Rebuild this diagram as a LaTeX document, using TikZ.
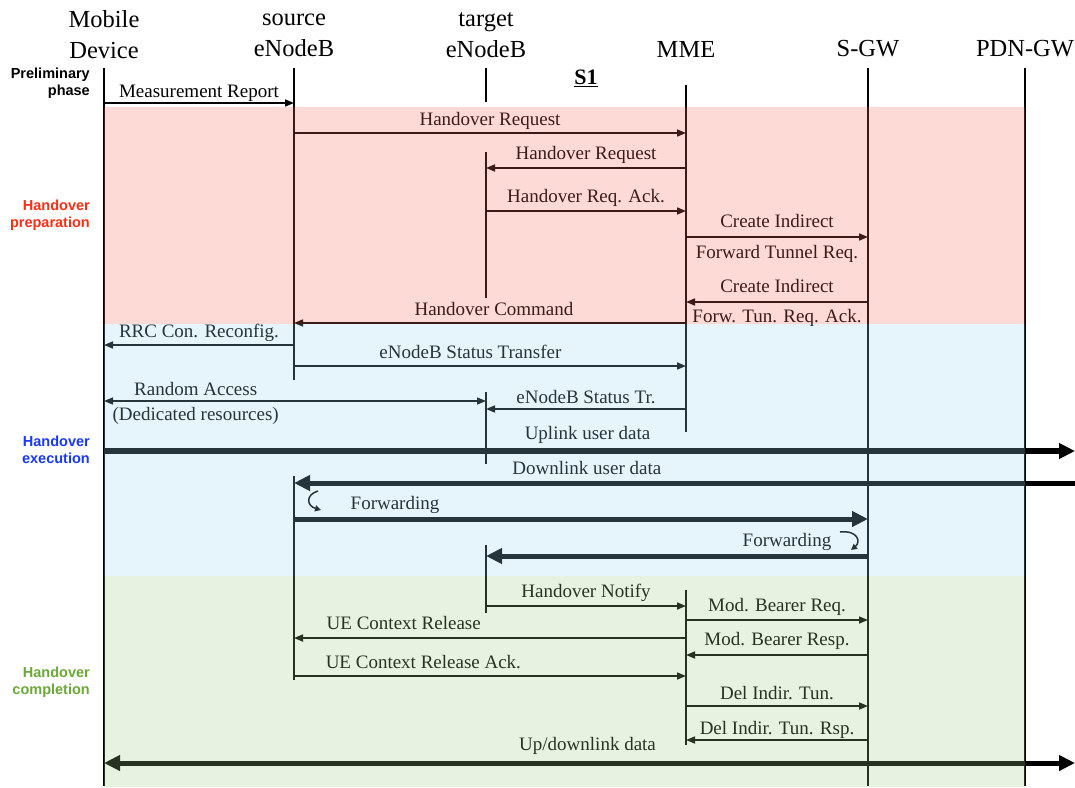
\documentclass[tikz,border=0pt]{standalone}
\usepackage{fontspec}
\setmainfont{Liberation Serif}
\newfontfamily\lsans{Liberation Sans}
\usetikzlibrary{arrows.meta,calc}
\definecolor{bandpink}{RGB}{247,107,87}
\definecolor{bandblue}{RGB}{155,211,239}
\definecolor{bandgreen}{RGB}{159,207,131}
\definecolor{prepred}{RGB}{255,45,20}
\definecolor{execblue}{RGB}{25,55,255}
\definecolor{compgreen}{RGB}{106,168,55}
\tikzset{
  head/.style={font=\fontsize{24.5}{31}\selectfont, align=center, inner sep=0pt},
  lbl/.style={font=\fontsize{19}{22}\selectfont, inner sep=2pt, text height=13pt, text depth=4pt},
  up/.style={lbl, above, yshift=0.5pt},
  dn/.style={lbl, below, yshift=-6pt},
  life/.style={line width=1.6pt},
  lifeb/.style={line width=2.4pt},
  msg/.style={line width=1.6pt, -{Triangle[length=9pt,width=7pt]}},
  bigmsg/.style={line width=5pt, -{Triangle[length=16pt,width=15pt]}},
  phaselbl/.style={font=\lsans\bfseries\fontsize{14.5}{17}\selectfont, align=right, anchor=east, inner sep=0pt},
  band/.style={fill opacity=0.25, draw=none},
  hook/.style={line width=1.5pt, -{Triangle[length=6pt,width=6pt]}}
}
\begin{document}
\begin{tikzpicture}[x=1pt,y=-1pt]
\useasboundingbox (0,0) rectangle (1075,787);
% lifeline anchors
\coordinate (ue) at (104,0);
\coordinate (src) at (294,0);
\coordinate (tgt) at (486,0);
\coordinate (mme) at (686,0);
\coordinate (sgw) at (868,0);
\coordinate (pdn) at (1025,0);
\coordinate (edgeR) at (1075,0);

% headers
\node[head] (hue) at (104,35) {Mobile\\Device};
\node[head] (hsrc) at (294,35) {source\\eNodeB};
\node[head] (htgt) at (486,35) {target\\eNodeB};
\node[head] (hmme) at (686,49) {MME};
\node[head] (hsgw) at (868,49) {S-GW};
\node[head] (hpdn) at (1025,49) {PDN-GW};
\node[font=\bfseries\fontsize{22}{24}\selectfont, inner sep=0pt] (s1) at (586,78) {\underline{S1}};

% phase labels
\node[phaselbl] (pprelim) at (90,83) {Preliminary\\phase};
\node[phaselbl, text=prepred] (pprep) at (90,215) {Handover\\preparation};
\node[phaselbl, text=execblue] (pexec) at (90,450) {Handover\\execution};
\node[phaselbl, text=compgreen] (pcomp) at (90,682) {Handover\\completion};

% lifelines
\draw[lifeb] ($(ue)+(0,68)$) -- ($(ue)+(0,786)$);
\draw[life] ($(src)+(0,68)$) -- ($(src)+(0,380)$);
\draw[life] ($(src)+(0,476)$) -- ($(src)+(0,680)$);
\draw[lifeb] ($(tgt)+(0,68)$) -- ($(tgt)+(0,102)$);
\draw[life] ($(tgt)+(0,152)$) -- ($(tgt)+(0,298)$);
\draw[lifeb] ($(tgt)+(0,392)$) -- ($(tgt)+(0,464)$);
\draw[life] ($(tgt)+(0,545)$) -- ($(tgt)+(0,613)$);
\draw[life] ($(mme)+(0,85)$) -- ($(mme)+(0,432)$);
\draw[life] ($(mme)+(0,590)$) -- ($(mme)+(0,745)$);
\draw[life] ($(sgw)+(0,68)$) -- ($(sgw)+(0,786)$);
\draw[life] ($(pdn)+(0,68)$) -- ($(pdn)+(0,786)$);

% preliminary
\draw[msg] ($(ue)+(0,103)$) -- node[up,yshift=-2pt] (mr) {Measurement Report} ($(src)+(0,103)$);

% preparation
\draw[msg] ($(src)+(0,133)$) -- node[up] (m1) {Handover Request} ($(mme)+(0,133)$);
\draw[msg] ($(mme)+(0,168)$) -- node[up,yshift=1pt] (m2) {Handover Request} ($(tgt)+(0,168)$);
\draw[msg] ($(tgt)+(0,211)$) -- node[up,yshift=1pt] (m3) {Handover Req. Ack.} ($(mme)+(0,211)$);
\draw[msg] ($(mme)+(0,237)$) -- node[up,yshift=2.5pt] (m4a) {Create Indirect}
  node[dn] (m4b) {Forward Tunnel Req.} ($(sgw)+(0,237)$);
\draw[msg] ($(sgw)+(0,302)$) -- node[up,yshift=2.5pt] (m5a) {Create Indirect}
  node[dn,yshift=1pt] (m5b) {Forw. Tun. Req. Ack.} ($(mme)+(0,302)$);
\draw[msg] ($(mme)+(0,323)$) -- node[up,xshift=4pt] (m6) {Handover Command} ($(src)+(0,323)$);

% execution
\draw[msg] ($(src)+(0,345)$) -- node[up] (m7) {RRC Con. Reconfig.} ($(ue)+(0,345)$);
\draw[msg] ($(src)+(0,366)$) -- node[up,pos=0.45] (m8) {eNodeB Status Transfer} ($(mme)+(0,366)$);
\draw[line width=1.3pt, {Triangle[length=9pt,width=7pt]}-{Triangle[length=9pt,width=7pt]}]
  ($(ue)+(0,401)$) -- node[up,pos=0.24,yshift=-2pt] (m9a) {Random Access}
  node[dn,pos=0.24,yshift=2pt] (m9b) {(Dedicated resources)} ($(tgt)+(0,401)$);
\draw[msg] ($(mme)+(0,409)$) -- node[up,yshift=-2pt] (m10) {eNodeB Status Tr.} ($(tgt)+(0,409)$);
\draw[bigmsg, line width=6pt] ($(ue)+(0,451)$) -- node[up,pos=0.498,yshift=2pt] (m11) {Uplink user data} ($(edgeR)+(0,451)$);
\draw[bigmsg] ($(edgeR)+(0,483)$) -- node[up,pos=0.625] (m12) {Downlink user data} ($(src)+(0,483)$);
\draw[bigmsg] ($(src)+(0,519)$) -- node[up,pos=0.176,yshift=1pt] (m13) {Forwarding} ($(sgw)+(0,519)$);
\draw[bigmsg] ($(sgw)+(0,556)$) -- node[up,pos=0.212,yshift=1pt] (m14) {Forwarding} ($(tgt)+(0,556)$);
\draw[hook] (318,491) .. controls (305,495) and (307,506) .. (321,510);
\draw[hook] (840,532) .. controls (858,530) and (861,542) .. (851,550);

% completion
\draw[msg] ($(tgt)+(0,606)$) -- node[up,yshift=1pt] (m15) {Handover Notify} ($(mme)+(0,606)$);
\draw[msg] ($(mme)+(0,620)$) -- node[up,yshift=1pt] (m16) {Mod. Bearer Req.} ($(sgw)+(0,620)$);
\draw[msg] ($(mme)+(0,638)$) -- node[up,pos=0.72,yshift=1pt] (m17) {UE Context Release} ($(src)+(0,638)$);
\draw[msg] ($(sgw)+(0,655)$) -- node[up,yshift=2pt] (m18) {Mod. Bearer Resp.} ($(mme)+(0,655)$);
\draw[msg] ($(src)+(0,676)$) -- node[up,pos=0.33] (m19) {UE Context Release Ack.} ($(mme)+(0,676)$);
\draw[msg] ($(mme)+(0,706)$) -- node[up,yshift=-1pt] (m20) {Del Indir. Tun.} ($(sgw)+(0,706)$);
\draw[msg] ($(sgw)+(0,740)$) -- node[up,yshift=-2pt] (m21) {Del Indir. Tun. Rsp.} ($(mme)+(0,740)$);
\draw[line width=5pt, {Triangle[length=16pt,width=15pt]}-{Triangle[length=16pt,width=15pt]}]
  ($(ue)+(0,763)$) -- node[up,pos=0.498,yshift=4pt] (m22) {Up/downlink data} ($(edgeR)+(0,763)$);

% phase bands (tinting overlay)
\fill[band, fill=bandpink] (104,107) rectangle (1025,324);
\fill[band, fill=bandblue] (104,324) rectangle (1025,576);
\fill[band, fill=bandgreen] (104,576) rectangle (1025,787);
\end{tikzpicture}
\end{document}
